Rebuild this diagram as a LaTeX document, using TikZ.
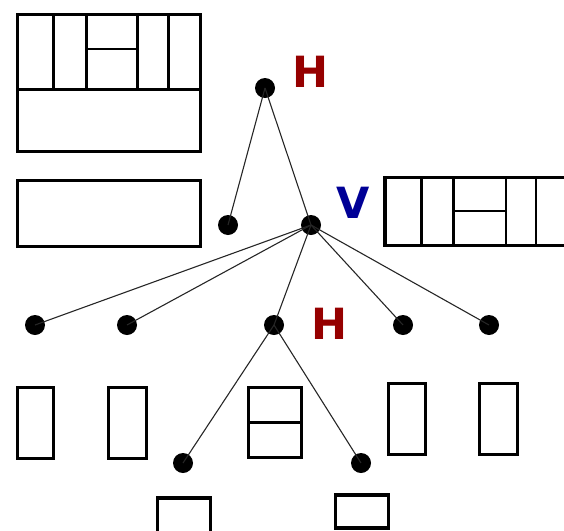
\documentclass[tikz,border=0pt]{standalone}
\usepackage{fontspec}
\setmainfont{DejaVu Sans}
\definecolor{hred}{RGB}{150,0,0}
\definecolor{vblue}{RGB}{0,0,150}
\tikzset{
  frame/.style={draw=black, line width=3.5pt},
  cut/.style={draw=black, line width=3pt},
  subcut/.style={draw=black, line width=2.5pt},
  dot/.style={circle, fill=black, inner sep=0pt, minimum size=20pt},
  edge/.style={draw=black!85, line width=1.1pt},
  lab/.style={font=\fontsize{43}{43}\selectfont\bfseries, inner sep=0pt},
}
\begin{document}
\begin{tikzpicture}[x=1pt, y=-1pt]
\useasboundingbox (0,0) rectangle (564,530);
\clip (0,0) rectangle (564,530);

% layout of the whole sheet: top row of strips over one wide panel
\draw[frame] (17.5,14.5) rectangle (200.5,151.5);
\draw[cut] (17.5,89) -- (200.5,89);
\draw[cut] (53.3,14.5) -- (53.3,89);
\draw[cut] (86.5,14.5) -- (86.5,89);
\draw[cut] (137.7,14.5) -- (137.7,89);
\draw[cut] (168.7,14.5) -- (168.7,89);
\draw[subcut] (86.5,49) -- (137.7,49);

% first split: the wide panel and the row of strips
\draw[frame] (17.5,180.5) rectangle (200.5,246.5);
\draw[frame] (385,177.5) rectangle (580,245.5);
\draw[subcut] (421.3,177.5) -- (421.3,245.5);
\draw[subcut] (453.3,177.5) -- (453.3,245.5);
\draw[subcut] (506,177.5) -- (506,245.5);
\draw[subcut] (536,177.5) -- (536,245.5);
\draw[subcut] (453.3,211) -- (506,211);

% second split: the five strips
\draw[frame] (17.5,387.5) rectangle (53.5,458.5);
\draw[frame] (108.5,387.5) rectangle (146.5,458.5);
\draw[frame] (248.5,387.5) rectangle (301.5,457.5);
\draw[cut] (248.5,422) -- (301.5,422);
\draw[frame] (388.5,383.5) rectangle (425.5,454.5);
\draw[frame] (479.5,383.5) rectangle (517.5,454.5);

% third split: the two stacked cells
\draw[frame] (157.5,498) rectangle (210.5,560);
\draw[frame] (335.5,495) rectangle (388.5,528);

% tree nodes
\node[dot] (root) at (265,88) {};
\node[dot] (panel) at (228,225) {};
\node[dot] (strips) at (311,225) {};
\node[dot] (s1) at (35,325) {};
\node[dot] (s2) at (127,325) {};
\node[dot] (s3) at (274,325) {};
\node[dot] (s4) at (403,325) {};
\node[dot] (s5) at (489,325) {};
\node[dot] (c1) at (183,463) {};
\node[dot] (c2) at (361,463) {};

% tree edges
\draw[edge] (root.center) -- (panel.center);
\draw[edge] (root.center) -- (strips.center);
\foreach \s in {s1,s2,s3,s4,s5}
  \draw[edge] (strips.center) -- (\s.center);
\draw[edge] (s3.center) -- (c1.center);
\draw[edge] (s3.center) -- (c2.center);

% cut directions
\node[lab, text=hred] (hroot) at (310,72) {H};
\node[lab, text=vblue] (vstrips) at (353,203) {V};
\node[lab, text=hred] (hs3) at (329,324) {H};
\end{tikzpicture}
\end{document}
